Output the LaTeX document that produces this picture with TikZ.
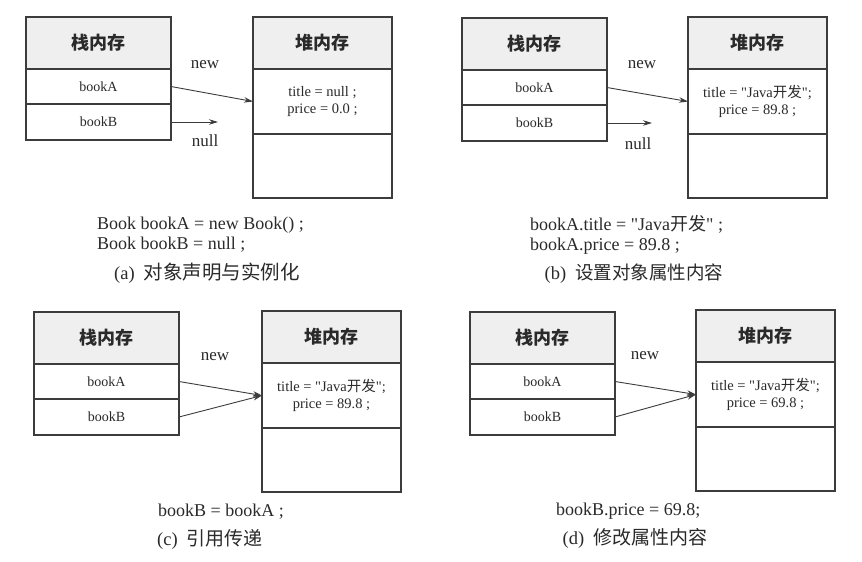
\documentclass[tikz,border=0pt]{standalone}
\usepackage{fontspec}
\setmainfont{Liberation Serif}[Ligatures=TeXOff]
\newfontfamily\cjk{Noto Sans CJK SC}
\usetikzlibrary{arrows.meta}
\definecolor{ln}{HTML}{3C3C3C}
\definecolor{hd}{HTML}{EFEFEF}
\definecolor{tx}{HTML}{2A2A2A}
\newcommand\dq{\symbol{34}}
\newcommand\mempanel[7]{%
  \node[hdr, stackcol] (#1-sh) at (#2,#3) {栈内存};
  \node[cell, stackcol, minimum height=35pt] (#1-sa) at (#1-sh.south west) {bookA};
  \node[cell, stackcol, minimum height=36pt] (#1-sb) at (#1-sa.south west) {bookB};
  \node[hdr, heapcol] (#1-hh) at (#4,#5) {堆内存};
  \node[cell, heapcol, minimum height=65pt, align=center, font=\fontsize{14.5}{17.5}\selectfont] (#1-hb) at (#1-hh.south west) {#6\\#7};
  \node[cell, heapcol, minimum height=64pt] (#1-he) at (#1-hb.south west) {};
}
\begin{document}
\begin{tikzpicture}[x=1pt,y=-1pt,
  cell/.style={draw=ln, line width=1.1pt, anchor=north west, inner sep=0pt, outer sep=0pt,
    text=tx, font=\fontsize{14}{17}\selectfont},
  stackcol/.style={minimum width=145pt},
  heapcol/.style={minimum width=139pt},
  hdr/.style={cell, fill=hd, minimum height=52pt, font=\cjk\bfseries\fontsize{18}{20}\selectfont},
  ptr/.style={draw=ln, line width=0.9pt, -{Stealth[length=9pt,width=5.5pt]}},
  lbl/.style={text=tx, font=\fontsize{17}{20}\selectfont, inner sep=0pt},
  code/.style={text=tx, font=\fontsize{18}{20}\selectfont, anchor=west, align=left, inner sep=0pt},
  capt/.style={text=tx, font=\fontsize{18.5}{20}\selectfont, inner sep=0pt}
]
\useasboundingbox[fill=white] (0,0) rectangle (862,562);

% (a)
\mempanel{a}{26}{17}{253}{17}{title = null ;}{price = 0.0 ;}
\coordinate (a-nullend) at ([xshift=47pt]a-sb.east);
\draw[ptr] (a-sa.east) -- (a-hb.west);
\draw[ptr] (a-sb.east) -- (a-nullend);
\node[lbl] (a-new) at (205,65) {new};
\node[lbl] (a-null) at (205,141) {null};
\node[code] (a-code) at (97,235) {Book bookA = new Book() ;\\[0pt]Book bookB = null ;};
\node[capt] (a-cap) at (207,273) {(a)\hspace{9pt}{\cjk\fontsize{19.5}{20}\selectfont 对象声明与实例化}};

% (b)
\mempanel{b}{462}{18}{688}{17}{title = \dq Java{\cjk 开发}\dq;}{price = 89.8 ;}
\coordinate (b-nullend) at ([xshift=45pt]b-sb.east);
\draw[ptr] (b-sa.east) -- (b-hb.west);
\draw[ptr] (b-sb.east) -- (b-nullend);
\node[lbl] (b-new) at (642,65) {new};
\node[lbl] (b-null) at (638,144) {null};
\node[code] (b-code) at (530,235) {bookA.title = \dq Java{\cjk 开发}\dq{} ;\\[0pt]bookA.price = 89.8 ;};
\node[capt] (b-cap) at (634,274) {(b)\hspace{9pt}{\cjk\fontsize{18.5}{20}\selectfont 设置对象属性内容}};

% (c)
\mempanel{c}{34}{312}{262}{311}{title = \dq Java{\cjk 开发}\dq;}{price = 89.8 ;}
\draw[ptr] (c-sa.east) -- (c-hb.west);
\draw[ptr] (c-sb.east) -- (c-hb.west);
\node[lbl] (c-new) at (215,357) {new};
\node[code] (c-code) at (158,512) {bookB = bookA ;};
\node[capt] (c-cap) at (210,539) {(c)\hspace{9pt}{\cjk\fontsize{19}{20}\selectfont 引用传递}};

% (d)
\mempanel{d}{470}{312}{696}{310}{title = \dq Java{\cjk 开发}\dq;}{price = 69.8 ;}
\draw[ptr] (d-sa.east) -- (d-hb.west);
\draw[ptr] (d-sb.east) -- (d-hb.west);
\node[lbl] (d-new) at (645,356) {new};
\node[code] (d-code) at (556,511) {bookB.price = 69.8;};
\node[capt] (d-cap) at (635,538) {(d)\hspace{9pt}{\cjk\fontsize{19}{20}\selectfont 修改属性内容}};
\end{tikzpicture}
\end{document}
